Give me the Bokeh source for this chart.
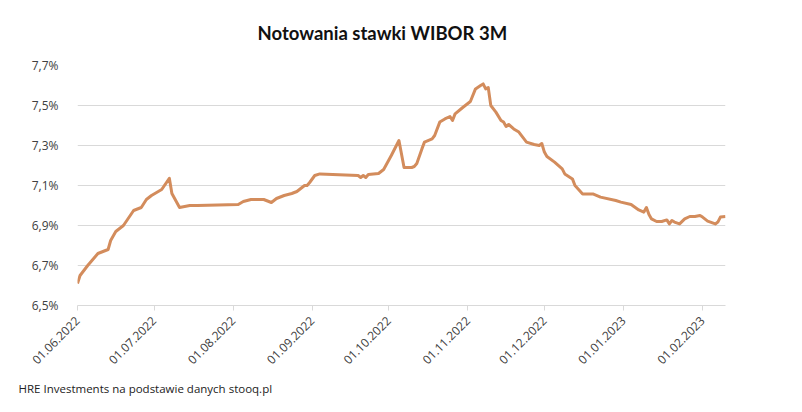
import math
import pandas as pd
from bokeh.plotting import figure
from bokeh.models import (FixedTicker, DatetimeTickFormatter, CustomJSTickFormatter,
                          Range1d, Title)
from bokeh.embed import file_html
from bokeh.resources import INLINE

# --- data ---
dates = [
    "2022-06-01", "2022-06-02", "2022-06-05", "2022-06-09", "2022-06-13", "2022-06-14",
    "2022-06-16", "2022-06-19", "2022-06-23", "2022-06-26", "2022-06-28", "2022-06-30",
    "2022-07-04", "2022-07-07", "2022-07-08", "2022-07-11", "2022-07-15", "2022-07-18",
    "2022-08-03", "2022-08-05", "2022-08-08", "2022-08-13", "2022-08-16", "2022-08-18",
    "2022-08-21", "2022-08-24", "2022-08-26", "2022-08-29", "2022-08-30", "2022-08-31",
    "2022-09-02", "2022-09-04", "2022-09-09", "2022-09-19", "2022-09-20", "2022-09-21",
    "2022-09-22", "2022-09-23", "2022-09-27", "2022-09-29", "2022-10-02", "2022-10-05",
    "2022-10-07", "2022-10-10", "2022-10-11", "2022-10-12", "2022-10-14", "2022-10-15",
    "2022-10-18", "2022-10-19", "2022-10-21", "2022-10-23", "2022-10-25", "2022-10-26",
    "2022-10-27", "2022-10-30", "2022-11-02", "2022-11-04", "2022-11-06", "2022-11-07",
    "2022-11-08", "2022-11-09", "2022-11-10", "2022-11-12", "2022-11-14", "2022-11-15",
    "2022-11-16", "2022-11-17", "2022-11-19", "2022-11-21", "2022-11-24", "2022-11-27",
    "2022-11-29", "2022-11-30", "2022-12-01", "2022-12-02", "2022-12-05", "2022-12-08",
    "2022-12-09", "2022-12-12", "2022-12-13", "2022-12-16", "2022-12-20", "2022-12-23",
    "2022-12-29", "2022-12-31", "2023-01-04", "2023-01-07", "2023-01-09", "2023-01-10",
    "2023-01-11", "2023-01-12", "2023-01-14", "2023-01-16", "2023-01-18", "2023-01-19",
    "2023-01-20", "2023-01-21", "2023-01-23", "2023-01-25", "2023-01-27", "2023-01-29",
    "2023-01-31", "2023-02-01", "2023-02-03", "2023-02-06", "2023-02-07", "2023-02-08",
    "2023-02-10",
]
wibor = [
    6.61, 6.65, 6.70, 6.76, 6.78, 6.825,
    6.87, 6.90, 6.975, 6.99, 7.03, 7.05,
    7.08, 7.136, 7.06, 6.99, 7.00, 7.00,
    7.005, 7.02, 7.03, 7.03, 7.015, 7.035,
    7.05, 7.06, 7.07, 7.10, 7.10, 7.115,
    7.15, 7.158, 7.155, 7.15, 7.14, 7.15,
    7.14, 7.155, 7.16, 7.18, 7.25, 7.325,
    7.19, 7.19, 7.195, 7.21, 7.283, 7.317,
    7.333, 7.35, 7.417, 7.433, 7.445, 7.425,
    7.458, 7.49, 7.52, 7.583, 7.60, 7.608,
    7.583, 7.59, 7.50, 7.467, 7.425, 7.417,
    7.395, 7.405, 7.383, 7.367, 7.317, 7.305,
    7.30, 7.31, 7.267, 7.245, 7.217, 7.183,
    7.158, 7.133, 7.10, 7.058, 7.058, 7.042,
    7.025, 7.017, 7.005, 6.978, 6.967, 6.99,
    6.955, 6.933, 6.92, 6.92, 6.928, 6.908,
    6.925, 6.917, 6.908, 6.933, 6.945, 6.945,
    6.95, 6.942, 6.922, 6.908, 6.917, 6.942,
    6.945,
]
month_ticks = ["2022-06-01", "2022-07-01", "2022-08-01", "2022-09-01", "2022-10-01",
               "2022-11-01", "2022-12-01", "2023-01-01", "2023-02-01"]
y_ticks = [6.5, 6.7, 6.9, 7.1, 7.3, 7.5, 7.7]
title_text = "Notowania stawki WIBOR 3M"
source_text = "HRE Investments na podstawie danych stooq.pl"

x = pd.to_datetime(dates)
tick_ms = [pd.Timestamp(d).value // 10**6 for d in month_ticks]

p = figure(width=802, height=412, output_backend="svg", toolbar_location=None,
           x_axis_type="datetime",
           x_range=Range1d(pd.Timestamp("2022-06-01"), pd.Timestamp("2023-02-10")),
           y_range=Range1d(6.5, 7.7),
           min_border_left=77, min_border_right=77, min_border_top=65, min_border_bottom=107,
           background_fill_color="white", border_fill_color="white")
p.outline_line_color = None

p.line(x, wibor, line_color="#D38C5C", line_width=3, line_join="round")

# x axis
p.xaxis.ticker = FixedTicker(ticks=tick_ms)
p.xaxis.formatter = DatetimeTickFormatter(days="%d.%m.%Y", months="%d.%m.%Y",
                                          years="%d.%m.%Y")
p.xaxis.major_label_orientation = math.pi / 4
p.xaxis.axis_line_color = "#d9d9d9"
p.xaxis.major_tick_line_color = "#d9d9d9"
p.xaxis.major_tick_in = 0
p.xaxis.major_tick_out = 5
p.xaxis.minor_tick_line_color = None
p.xaxis.major_label_text_font = "Open Sans"
p.xaxis.major_label_text_font_size = "12px"
p.xaxis.major_label_text_color = "#404040"
p.xaxis.major_label_standoff = 8
p.xgrid.grid_line_color = None

# y axis
p.yaxis.ticker = FixedTicker(ticks=y_ticks)
p.yaxis.formatter = CustomJSTickFormatter(code="return tick.toFixed(1).replace('.', ',') + '%';")
p.yaxis.axis_line_color = None
p.yaxis.major_tick_line_color = None
p.yaxis.minor_tick_line_color = None
p.yaxis.major_label_text_font = "Open Sans"
p.yaxis.major_label_text_font_size = "12px"
p.yaxis.major_label_text_color = "#404040"
p.yaxis.major_label_standoff = 13
p.ygrid.grid_line_color = "#d9d9d9"
p.ygrid.grid_line_width = 1

p.add_layout(Title(text=title_text, align="left", offset=180, standoff=40,
                   vertical_align="top",
                   text_font="Lato", text_font_style="bold", text_font_size="18.5px",
                   text_color="#111111"), "above")
p.add_layout(Title(text=source_text, align="left", offset=-59, standoff=14,
                   text_font="Open Sans", text_font_style="normal", text_font_size="11.5px",
                   text_color="#222222"), "below")

open("out.html", "w").write(file_html(p, INLINE))
